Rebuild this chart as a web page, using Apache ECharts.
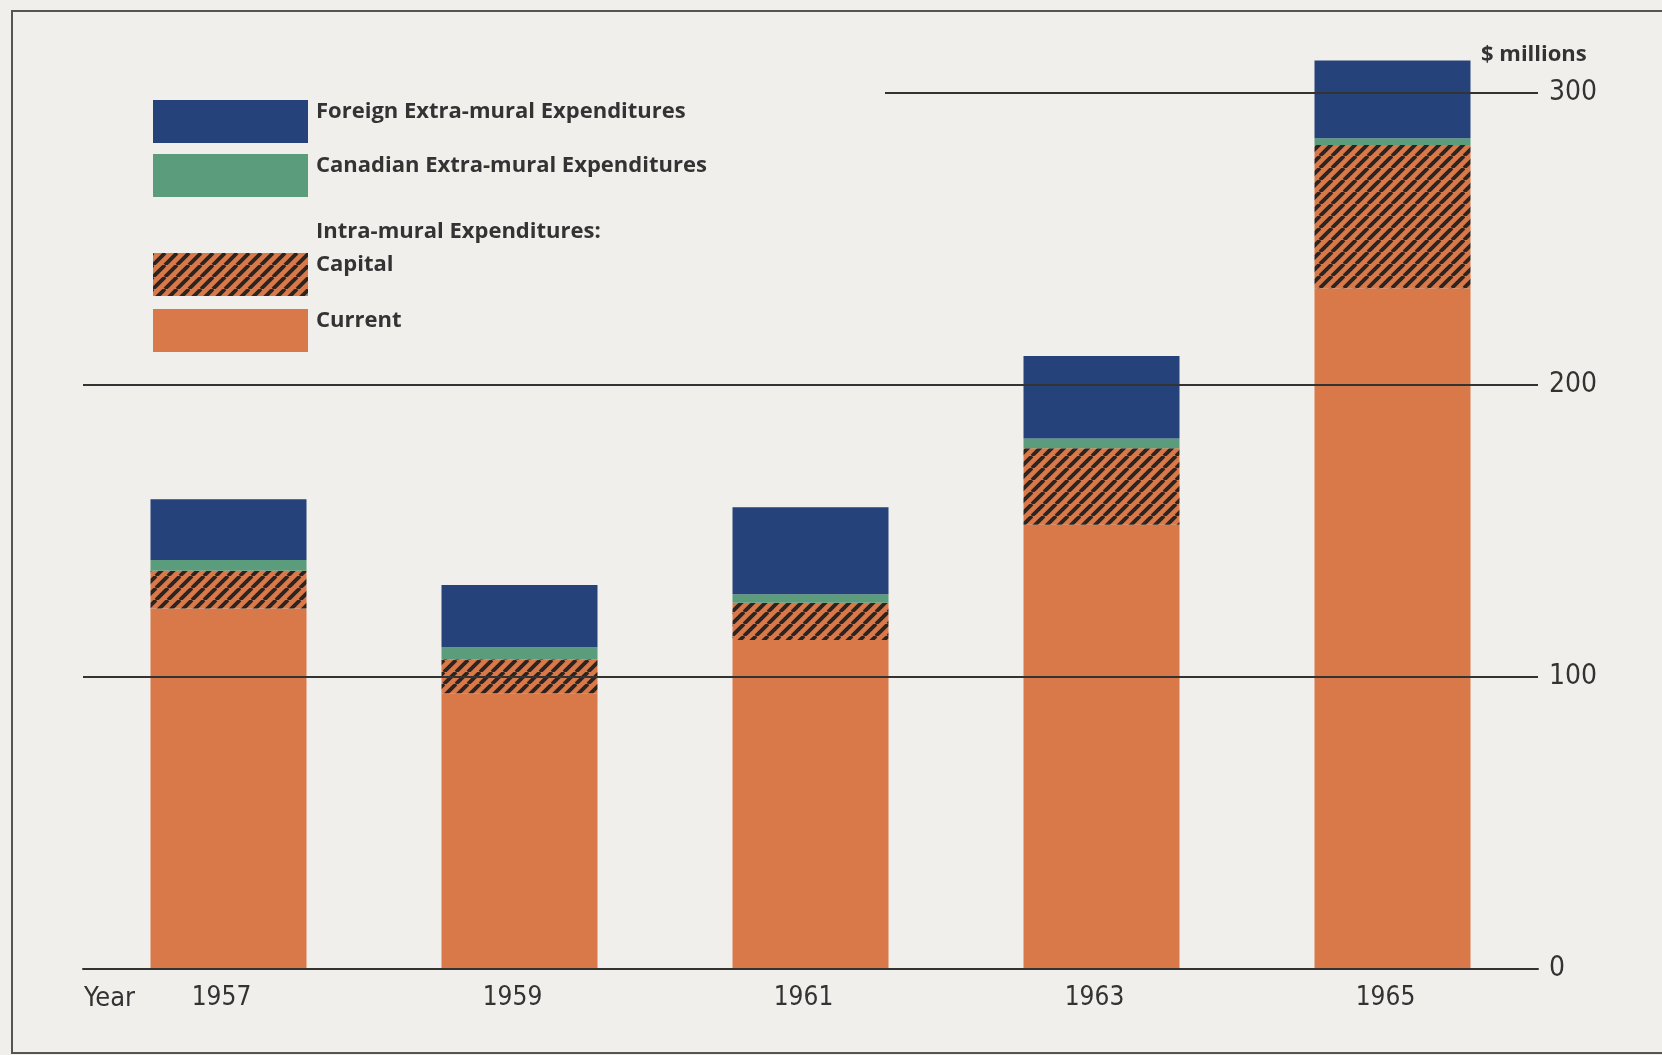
<!DOCTYPE html>
<html>
<head>
    <meta charset="utf-8">
    <title>Research expenditures 1957-1965</title>
    <script src="https://cdn.jsdelivr.net/npm/echarts@6/dist/echarts.min.js"></script>
    <style>
        html, body { margin: 0; padding: 0; background: #f1efec; }
    </style>
</head>

<body>
    <div id="main" style="width: 1662px; height: 1055px;"></div>

    <script type="text/javascript">

        // values in $ millions
        const years = ['1957', '1959', '1961', '1963', '1965']
        const current = [123.5, 94.4, 112.7, 152.1, 233.1]
        const capital = [12.9, 11.7, 12.7, 26.2, 49.1]
        const canadian = [3.7, 4.1, 2.9, 3.4, 2.3]
        const foreign = [20.8, 21.3, 29.8, 28.2, 26.6]
        const yTicks = [0, 100, 200, 300]

        const orange = '#d97848'
        const green = '#5a9c7c'
        const navy = '#25427a'
        const ink = '#333333'
        const narrow = "'Liberation Sans Narrow', 'DejaVu Sans Condensed', sans-serif"
        const sans = "'Open Sans', 'Liberation Sans', sans-serif"

        // diagonal hatch for the capital part
        function hatch() {
            const p = 12
            const c = document.createElement('canvas')
            c.width = p
            c.height = p
            const ctx = c.getContext('2d')
            ctx.fillStyle = orange
            ctx.fillRect(0, 0, p, p)
            ctx.strokeStyle = '#2a2522'
            ctx.lineWidth = 3.8
            ctx.beginPath()
            for (let k = -1; k <= 1; k++) {
                ctx.moveTo(k * p, p)
                ctx.lineTo(k * p + p, 0)
            }
            ctx.stroke()
            return c
        }

        // label sits a little above the middle of its swatch, as printed
        const legendText = {
            rich: {
                t: { fontSize: 22, fontWeight: 'bold', color: ink, fontFamily: sans, lineHeight: 24, padding: [0, 0, 0, 3] },
                s: { fontSize: 10, lineHeight: 20 }
            }
        }
        const headStyle = { fontSize: 22, fontWeight: 'bold', color: ink, fontFamily: sans, lineHeight: 24 }

        var myChart = echarts.init(document.getElementById('main'));

        option = {
            backgroundColor: '#f1efec',
            animation: false,
            title: [
                { text: '$ millions', left: 1481, top: 43, padding: 0, textStyle: headStyle },
                { text: 'Intra-mural Expenditures:', left: 316, top: 220, padding: 0, textStyle: headStyle },
                {
                    text: 'Year', left: 84, top: 985, padding: 0,
                    textStyle: { fontSize: 27, fontWeight: 'normal', color: ink, fontFamily: narrow }
                }
            ],
            legend: [
                {
                    orient: 'vertical', left: 153, top: 100, padding: 0,
                    itemWidth: 155, itemHeight: 43, itemGap: 11,
                    icon: 'rect', selectedMode: false,
                    formatter: '{t|{name}}\n{s| }',
                    textStyle: legendText,
                    data: ['Foreign Extra-mural Expenditures', 'Canadian Extra-mural Expenditures']
                },
                {
                    orient: 'vertical', left: 153, top: 253, padding: 0,
                    itemWidth: 155, itemHeight: 43, itemGap: 13,
                    icon: 'rect', selectedMode: false,
                    formatter: '{t|{name}}\n{s| }',
                    textStyle: legendText,
                    data: ['Capital', 'Current']
                }
            ],
            graphic: [
                {
                    type: 'rect', silent: true, z: -1,
                    shape: { x: 12, y: 11, width: 1700, height: 1042 },
                    style: { fill: 'none', stroke: '#555', lineWidth: 2 }
                }
            ],
            grid: {
                left: 83,
                right: 124,
                top: 93,
                bottom: 86
            },
            xAxis: {
                type: 'category',
                data: years,
                z: 5,
                axisLine: { lineStyle: { color: ink, width: 2 } },
                axisTick: { show: false },
                axisLabel: { margin: 16, fontSize: 26, color: ink, fontFamily: narrow, padding: [0, 14, 0, 0] }
            },
            yAxis: {
                type: 'value',
                position: 'right',
                min: yTicks[0],
                max: yTicks[yTicks.length - 1],
                interval: yTicks[1] - yTicks[0],
                z: 5,
                axisLine: { show: false },
                axisTick: { show: false },
                axisLabel: { margin: 11, fontSize: 28, color: ink, fontFamily: narrow },
                splitLine: { showMinLine: false, showMaxLine: false, lineStyle: { color: ink, width: 1.8 } }
            },
            series: [
                {
                    name: 'Current', type: 'bar', stack: 'total', barWidth: 156, clip: false,
                    itemStyle: { color: orange },
                    data: current
                },
                {
                    name: 'Capital', type: 'bar', stack: 'total', barWidth: 156, clip: false,
                    itemStyle: { color: { image: hatch(), repeat: 'repeat' } },
                    data: capital
                },
                {
                    name: 'Canadian Extra-mural Expenditures', type: 'bar', stack: 'total', barWidth: 156, clip: false,
                    itemStyle: { color: green },
                    data: canadian
                },
                {
                    name: 'Foreign Extra-mural Expenditures', type: 'bar', stack: 'total', barWidth: 156, clip: false,
                    itemStyle: { color: navy },
                    data: foreign,
                    markLine: {
                        silent: true,
                        symbol: 'none',
                        label: { show: false },
                        lineStyle: { color: ink, width: 1.8, type: 'solid' },
                        data: [[{ x: 885, y: 93 }, { x: 1538, y: 93 }]]
                    }
                }
            ]
        };

        myChart.setOption(option);
    </script>
</body>
</html>
